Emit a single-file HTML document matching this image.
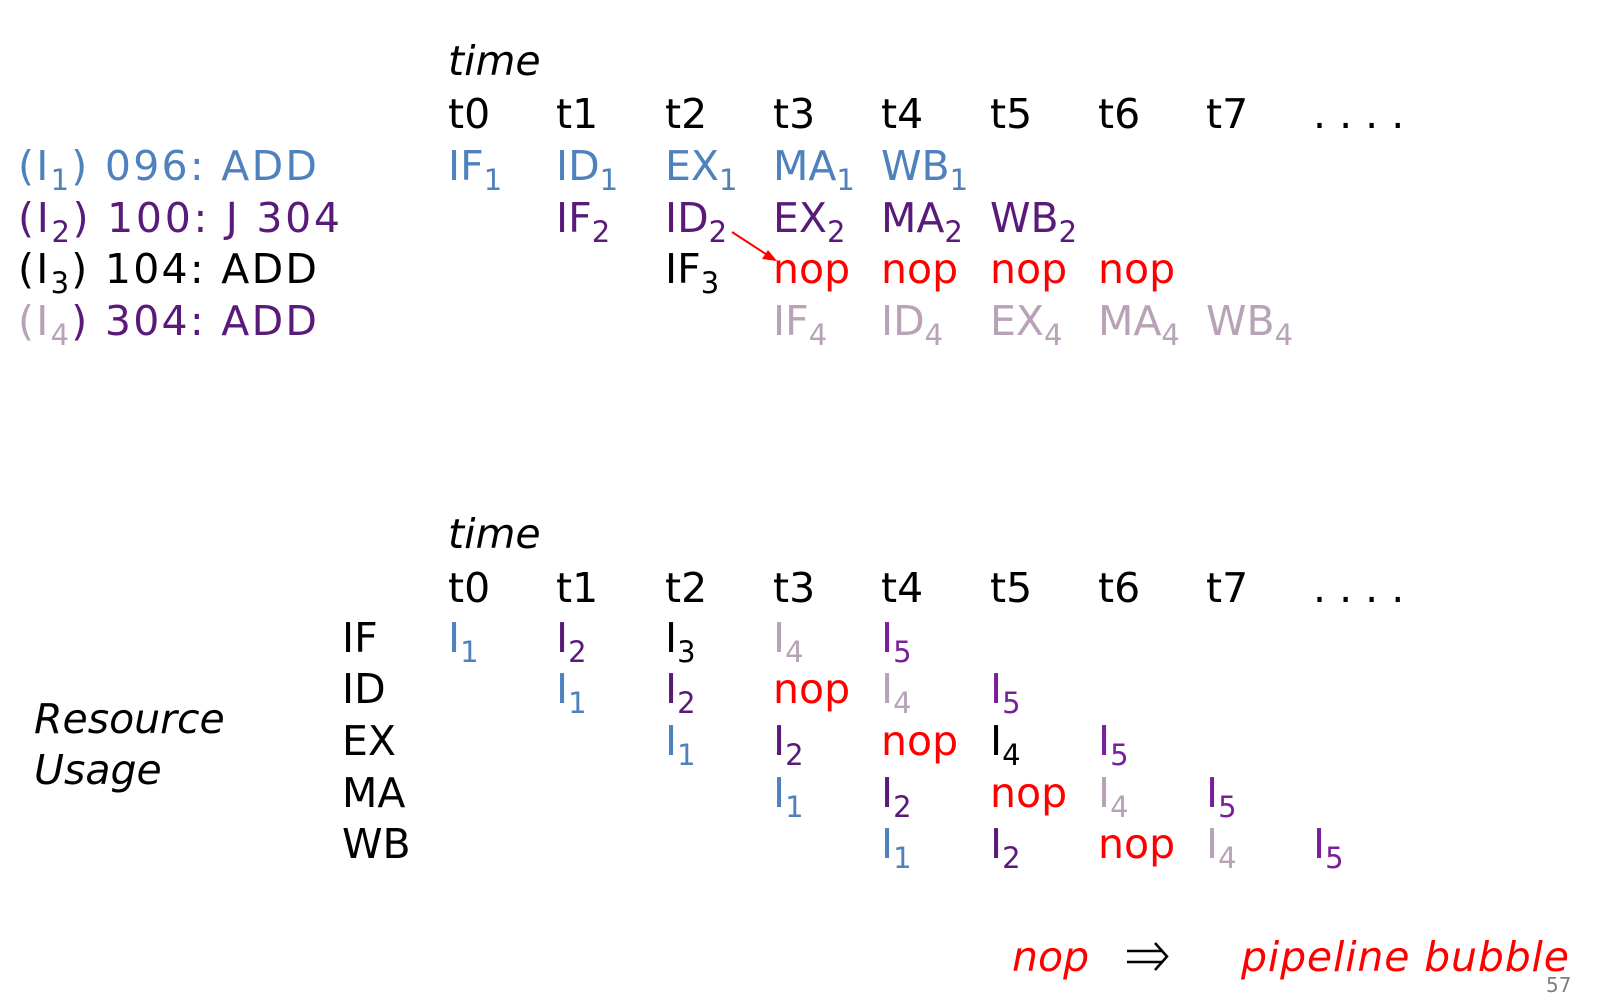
<!DOCTYPE html>
<html><head><meta charset="utf-8"><style>
html,body{margin:0;padding:0;background:#fff;}
svg{display:block;}
text{font-family:"DejaVu Sans","Liberation Sans",sans-serif;font-size:41px;}
.b{fill:#4f81bd}.p{fill:#5a1a7a}.k{fill:#000}.r{fill:#ff0000}.g{fill:#b8a2b8}.v{fill:#7a1f9a}
.s{font-size:29px}
.i{font-style:italic}
</style></head><body>
<svg width="1606" height="994" viewBox="0 0 1606 994" xmlns="http://www.w3.org/2000/svg">
<!-- Top -->
<text x="448" y="75" class="k i">time</text>
<g class="k">
<text x="448" y="128">t0</text><text x="556" y="128">t1</text><text x="665" y="128">t2</text><text x="773" y="128">t3</text><text x="881" y="128">t4</text><text x="990" y="128">t5</text><text x="1098" y="128">t6</text><text x="1206" y="128">t7</text><text x="1313" y="128">. . . .</text>
</g>
<text x="18" y="180" class="b" textLength="299" lengthAdjust="spacing">(I<tspan class="s" dy="10">1</tspan><tspan dy="-10">) 096: ADD</tspan></text>
<text x="18" y="232" class="p" textLength="322" lengthAdjust="spacing">(I<tspan class="s" dy="10">2</tspan><tspan dy="-10">) 100: J 304</tspan></text>
<text x="18" y="283" class="k" textLength="299" lengthAdjust="spacing">(I<tspan class="s" dy="10">3</tspan><tspan dy="-10">) 104: ADD</tspan></text>
<text x="18" y="335" class="g" textLength="299" lengthAdjust="spacing">(I<tspan class="s" dy="10">4</tspan><tspan dy="-10" style="fill:#5a1a7a">) 304: ADD</tspan></text>

<text x="448" y="180" class="b">IF<tspan class="s" dy="10">1</tspan></text>
<text x="556" y="180" class="b">ID<tspan class="s" dy="10">1</tspan></text>
<text x="665" y="180" class="b">EX<tspan class="s" dy="10">1</tspan></text>
<text x="773" y="180" class="b">MA<tspan class="s" dy="10">1</tspan></text>
<text x="881" y="180" class="b">WB<tspan class="s" dy="10">1</tspan></text>

<text x="556" y="232" class="p">IF<tspan class="s" dy="10">2</tspan></text>
<text x="665" y="232" class="p">ID<tspan class="s" dy="10">2</tspan></text>
<text x="773" y="232" class="p">EX<tspan class="s" dy="10">2</tspan></text>
<text x="881" y="232" class="p">MA<tspan class="s" dy="10">2</tspan></text>
<text x="990" y="232" class="p">WB<tspan class="s" dy="10">2</tspan></text>

<text x="665" y="283" class="k">IF<tspan class="s" dy="10">3</tspan></text>
<text x="773" y="283" class="r">nop</text><text x="881" y="283" class="r">nop</text><text x="990" y="283" class="r">nop</text><text x="1098" y="283" class="r">nop</text>

<text x="773" y="335" class="g">IF<tspan class="s" dy="10">4</tspan></text>
<text x="881" y="335" class="g">ID<tspan class="s" dy="10">4</tspan></text>
<text x="990" y="335" class="g">EX<tspan class="s" dy="10">4</tspan></text>
<text x="1098" y="335" class="g">MA<tspan class="s" dy="10">4</tspan></text>
<text x="1206" y="335" class="g">WB<tspan class="s" dy="10">4</tspan></text>

<line x1="732" y1="232" x2="775" y2="260" stroke="#ff0000" stroke-width="2"/>
<path d="M777,261 L762,259 L768,250 z" fill="#ff0000"/>

<!-- Bottom -->
<text x="448" y="548" class="k i">time</text>
<g class="k">
<text x="448" y="602">t0</text><text x="556" y="602">t1</text><text x="665" y="602">t2</text><text x="773" y="602">t3</text><text x="881" y="602">t4</text><text x="990" y="602">t5</text><text x="1098" y="602">t6</text><text x="1206" y="602">t7</text><text x="1313" y="602">. . . .</text>
</g>
<g class="k">
<text x="342" y="652">IF</text><text x="342" y="703">ID</text><text x="342" y="755">EX</text><text x="342" y="807">MA</text><text x="342" y="858">WB</text>
</g>
<text x="34" y="733" class="k i">Resource</text>
<text x="34" y="784" class="k i">Usage</text>

<text x="448" y="652" class="b">I<tspan class="s" dy="10">1</tspan></text>
<text x="556" y="652" class="p">I<tspan class="s" dy="10">2</tspan></text>
<text x="665" y="652" class="k">I<tspan class="s" dy="10">3</tspan></text>
<text x="773" y="652" class="g">I<tspan class="s" dy="10">4</tspan></text>
<text x="881" y="652" class="v">I<tspan class="s" dy="10">5</tspan></text>

<text x="556" y="703" class="b">I<tspan class="s" dy="10">1</tspan></text>
<text x="665" y="703" class="p">I<tspan class="s" dy="10">2</tspan></text>
<text x="773" y="703" class="r">nop</text>
<text x="881" y="703" class="g">I<tspan class="s" dy="10">4</tspan></text>
<text x="990" y="703" class="v">I<tspan class="s" dy="10">5</tspan></text>

<text x="665" y="755" class="b">I<tspan class="s" dy="10">1</tspan></text>
<text x="773" y="755" class="p">I<tspan class="s" dy="10">2</tspan></text>
<text x="881" y="755" class="r">nop</text>
<text x="990" y="755" class="k">I<tspan class="s" dy="10">4</tspan></text>
<text x="1098" y="755" class="v">I<tspan class="s" dy="10">5</tspan></text>

<text x="773" y="807" class="b">I<tspan class="s" dy="10">1</tspan></text>
<text x="881" y="807" class="p">I<tspan class="s" dy="10">2</tspan></text>
<text x="990" y="807" class="r">nop</text>
<text x="1098" y="807" class="g">I<tspan class="s" dy="10">4</tspan></text>
<text x="1206" y="807" class="v">I<tspan class="s" dy="10">5</tspan></text>

<text x="881" y="858" class="b">I<tspan class="s" dy="10">1</tspan></text>
<text x="990" y="858" class="p">I<tspan class="s" dy="10">2</tspan></text>
<text x="1098" y="858" class="r">nop</text>
<text x="1206" y="858" class="g">I<tspan class="s" dy="10">4</tspan></text>
<text x="1313" y="858" class="v">I<tspan class="s" dy="10">5</tspan></text>

<!-- footer -->
<text x="1012" y="971" class="r i">nop</text>
<g stroke="#000" stroke-width="2.5" fill="none">
<line x1="1127" y1="951" x2="1163" y2="951"/>
<line x1="1127" y1="962" x2="1163" y2="962"/>
<path d="M1155,943 L1167,956.5 L1155,970"/>
</g>
<text x="1241" y="971" class="r i" textLength="328" lengthAdjust="spacing">pipeline bubble</text>
<text x="1546" y="992" style="font-size:20px;fill:#808080">57</text>
</svg>
</body></html>
